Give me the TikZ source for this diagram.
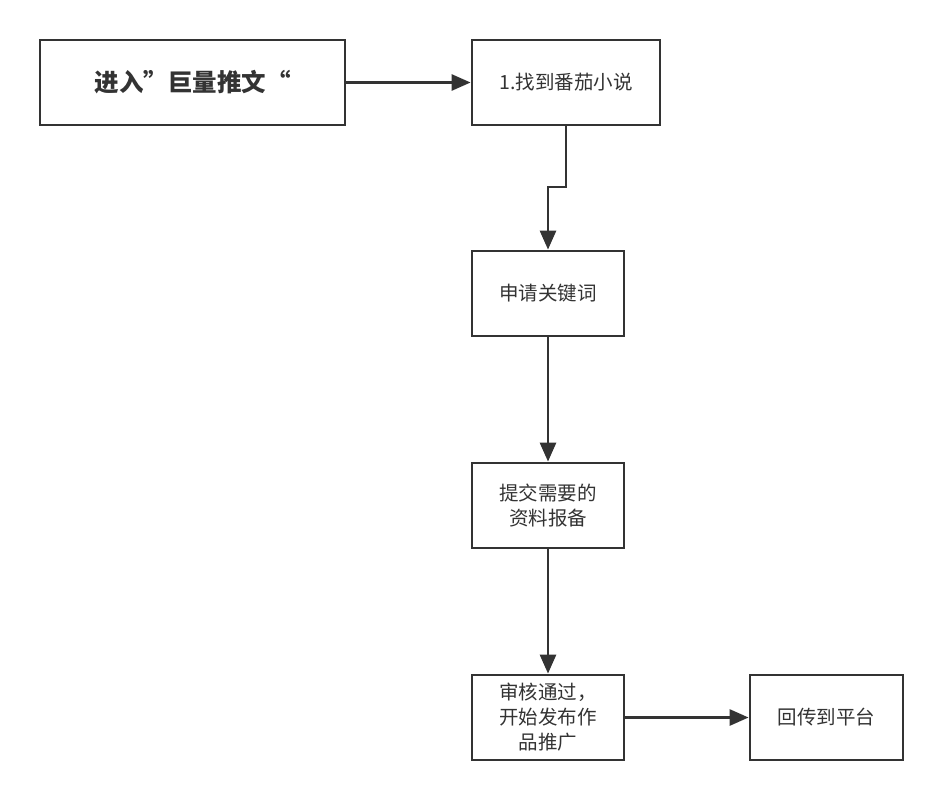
\documentclass[tikz,border=0pt]{standalone}
\usepackage{fontspec}
\setmainfont{Noto Sans CJK SC}
\usetikzlibrary{arrows.meta}
\definecolor{ln}{HTML}{333333}
\begin{document}
\begin{tikzpicture}[x=1pt,y=-1pt,
  box/.style={draw=ln,line width=2.8pt,fill=white,inner sep=0pt,font=\fontsize{19.5}{25}\selectfont,text=ln,align=center},
  conn/.style={draw=ln,line width=2.8pt,-{Triangle[length=19pt,width=16pt]}}]
\useasboundingbox (0,0) rectangle (942,800);
\node[box,minimum width=305pt,minimum height=85pt,font=\fontsize{24.5}{28}\selectfont\bfseries] (a) at (192.5,82.5) {进入”巨量推文“};
\node[box,minimum width=188pt,minimum height=85pt] (b) at (566,82.5) {1.找到番茄小说};
\node[box,minimum width=152pt,minimum height=85pt] (c) at (548,293.5) {申请关键词};
\node[box,minimum width=152pt,minimum height=85pt] (d) at (548,505.5) {提交需要的\\资料报备};
\node[box,minimum width=152pt,minimum height=85pt] (e) at (548,717.5) {审核通过，\\开始发布作\\品推广};
\node[box,minimum width=153pt,minimum height=85pt] (f) at (826.5,717.5) {回传到平台};
\coordinate (j1) at (566,187);
\coordinate (j2) at (548,187);
\draw[conn] (a.east) -- (b.west);
\draw[conn] (b.south) -- (j1) -- (j2) -- (c.north);
\draw[conn] (c.south) -- (d.north);
\draw[conn] (d.south) -- (e.north);
\draw[conn] (e.east) -- (f.west);
\end{tikzpicture}
\end{document}
